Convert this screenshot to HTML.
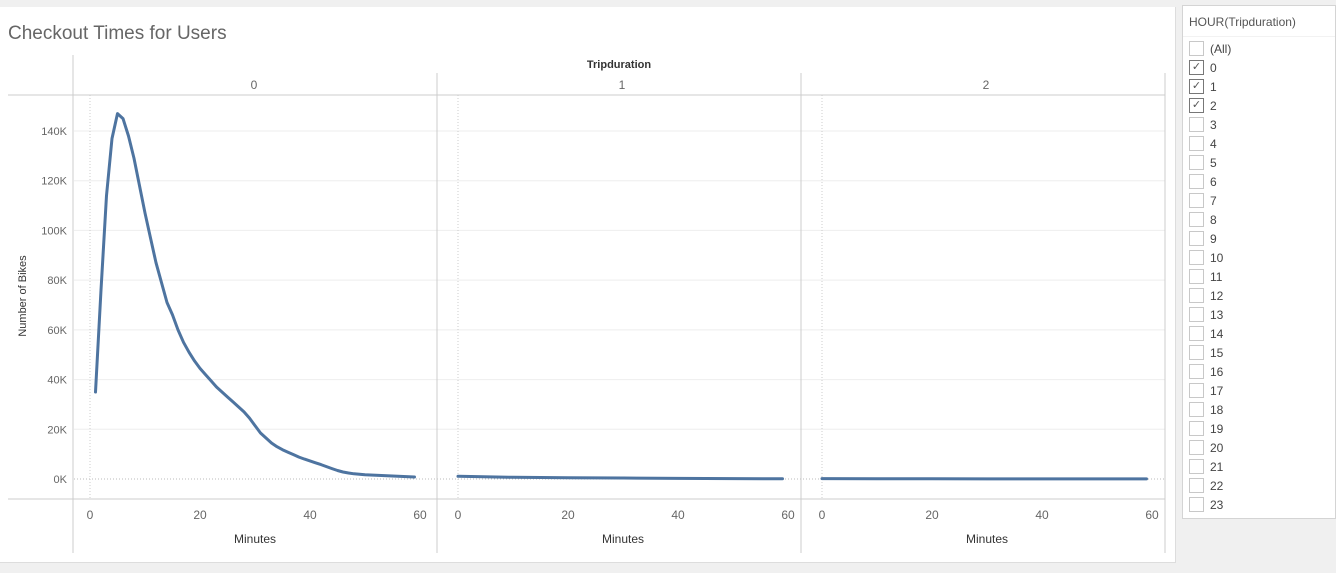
<!DOCTYPE html>
<html><head><meta charset="utf-8"><style>
body{margin:0;width:1336px;height:573px;background:#f0f0f0;font-family:"Liberation Sans",sans-serif;overflow:hidden;position:relative}
#main{position:absolute;left:0;top:7px;width:1175px;height:555px;background:#fff;border-right:1px solid #ddd;border-bottom:1px solid #ddd}
#legend{position:absolute;left:1182px;top:5px;width:152px;height:512px;background:#fff;border:1px solid #d4d4d4}
.item{position:absolute;left:6px;height:19px;font-size:12px;color:#444;line-height:15px}
.box{display:inline-block;width:13px;height:13px;border:1px solid #c8c8c8;vertical-align:middle;margin-right:6px;position:relative;top:-1px;font-size:11px;line-height:13px;text-align:center;color:#555}
.box.on{border-color:#777}
</style></head><body>
<div id="main">
<svg width="1175" height="555" style="position:absolute;left:0;top:0" id="chart">
<text x="8" y="32" font-size="19" fill="#666">Checkout Times for Users</text>
</svg></div>
<div id="legend">
<div style="position:absolute;left:6px;top:9px;font-size:12px;color:#555">HOUR(Tripduration)</div>
<div style="position:absolute;left:0;top:30px;width:152px;border-top:1px solid #f2f2f2"></div>
</div>
<script>
const minutes0=[1,2,3,4,5,6,7,8,9,10,11,12,13,14,15,16,17,18,19,20,21,22,23,24,25,26,27,28,29,30,31,32,33,34,35,36,37,38,39,40,41,42,43,44,45,46,47,48,49,50,51,52,53,54,55,56,57,58,59];
const bikes0=[35,76,114,137,147,145,138,129,118,107,97,87,79,71,66,60,55,51,47.5,44.5,42,39.5,37,35,33,31,29,27,24.5,21.5,18.5,16.5,14.5,13,11.8,10.8,9.8,8.8,8,7.3,6.5,5.8,5,4.2,3.4,2.8,2.4,2.1,1.9,1.7,1.6,1.5,1.4,1.3,1.2,1.1,1.0,0.9,0.8];
const minutes1=[0,10,20,30,40,50,59];
const bikes1=[1.1,0.7,0.5,0.4,0.25,0.15,0.1];
const minutes2=[0,10,20,30,40,50,59];
const bikes2=[0.15,0.1,0.08,0.06,0.05,0.04,0.03];
const panelLabels=["0","1","2"];
const yTicks=[0,20,40,60,80,100,120,140];
const xTicks=[0,20,40,60];
const hours=["(All)","0","1","2","3","4","5","6","7","8","9","10","11","12","13","14","15","16","17","18","19","20","21","22","23"];
const checked=["0","1","2"];

const svg=document.getElementById('chart');
const NS='http://www.w3.org/2000/svg';
function mk(t,a,txt){const e=document.createElementNS(NS,t);for(const k in a)e.setAttribute(k,a[k]);if(txt!==undefined)e.textContent=txt;svg.appendChild(e);return e;}
const oy=7;
const yScale=v=>479-oy-v*348/140;
const panels=[{x0:90,series:[minutes0,bikes0]},{x0:458,series:[minutes1,bikes1]},{x0:822,series:[minutes2,bikes2]}];
const xs=(p,m)=>p.x0+m*5.5;
yTicks.forEach(t=>{const g=mk('line',{x1:74,x2:1165,y1:yScale(t),y2:yScale(t),stroke:t===0?'#bbb':'#eee','stroke-dasharray':t===0?'1,2':'none'});


const l=mk('text',{x:67,y:yScale(t)+4,'text-anchor':'end','font-size':11,fill:'#666'},t+'K');

});
[[8,1165,95-oy,95-oy],[8,1165,499-oy,499-oy]].forEach(c=>mk('line',{x1:c[0],x2:c[1],y1:c[2],y2:c[3],stroke:'#ccc'}));
mk('line',{x1:73,x2:73,y1:55-oy,y2:553-oy,stroke:'#ccc'});
[437,801,1165].forEach(x=>mk('line',{x1:x,x2:x,y1:73-oy,y2:553-oy,stroke:'#ccc'}));
let tt=mk('text',{x:619,y:68-oy,'text-anchor':'middle','font-size':11,'font-weight':'bold',fill:'#333'},'Tripduration');


let yt=mk('text',{x:0,y:0,'text-anchor':'middle','font-size':11,fill:'#333',transform:`translate(26,${296-oy}) rotate(-90)`},'Number of Bikes');


panels.forEach((p,i)=>{
 const h=mk('text',{x:p.x0+164,y:89-oy,'text-anchor':'middle','font-size':12,fill:'#666'},panelLabels[i]);
 
 
 mk('line',{x1:p.x0,x2:p.x0,y1:95-oy,y2:499-oy,stroke:'#ccc','stroke-dasharray':'1,2'});
 xTicks.forEach(t=>{const l=mk('text',{x:xs(p,t),y:519-oy,'text-anchor':'middle','font-size':12,fill:'#666'},t);
 
 });
 const xt=mk('text',{x:p.x0+165,y:543-oy,'text-anchor':'middle','font-size':12,fill:'#333'},'Minutes');
 
 
 const [mx,by]=p.series;
 const d=mx.map((m,k)=>(k?'L':'M')+xs(p,m).toFixed(1)+','+yScale(by[k]).toFixed(1)).join('');
 const path=mk('path',{d:d,fill:'none',stroke:'#4e74a0','stroke-width':3,'stroke-linejoin':'round','stroke-linecap':'round'});
 
 
});
const lg=document.getElementById('legend');
hours.forEach((h,i)=>{
 const d=document.createElement('div');
 d.className='item';
 d.style.top=(36+i*19)+'px';
 const on=checked.includes(h);
 d.innerHTML='<span class="box'+(on?' on':'')+'">'+(on?'✓':'')+'</span>'+h;
 
 
 lg.appendChild(d);
});
</script>
</body></html>
